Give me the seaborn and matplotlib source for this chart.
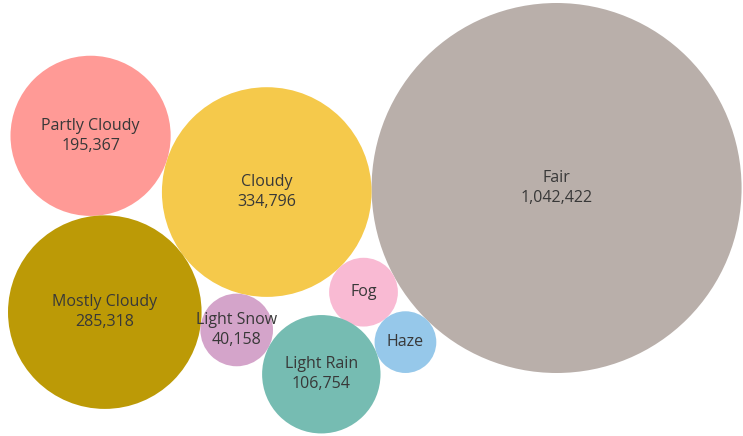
import numpy as np
import pandas as pd
import matplotlib.pyplot as plt
import seaborn as sns

# weather condition counts (packed bubbles)
conditions = ["Fair", "Cloudy", "Partly Cloudy", "Mostly Cloudy",
              "Light Snow", "Fog", "Haze", "Light Rain"]
counts = [1042422, 334796, 195367, 285318, 40158, 36000, 29000, 106754]
show_count = [True, True, True, True, True, False, False, True]
colors = {
    "Fair": "#B9AFAA",
    "Cloudy": "#F5C94B",
    "Partly Cloudy": "#FF9A96",
    "Mostly Cloudy": "#BC9A06",
    "Light Snow": "#D4A4CA",
    "Fog": "#F9BAD3",
    "Haze": "#96C8EA",
    "Light Rain": "#76BCB2",
}

W, H, DPI = 743, 436, 100
max_r = 185  # radius of the biggest bubble, in pixels

radius = {c: max_r * np.sqrt(v / max(counts)) for c, v in zip(conditions, counts)}
pos = {}


def touch_one(a, angle, name):
    # place `name` touching bubble `a` in the given direction (screen coords, y down)
    d = radius[a] + radius[name]
    t = np.radians(angle)
    return pos[a] + d * np.array([np.cos(t), np.sin(t)])


def touch_two(a, b, name):
    # place `name` touching bubbles a and b, on the lower side
    pa, pb = pos[a], pos[b]
    da, db = radius[a] + radius[name], radius[b] + radius[name]
    d = np.linalg.norm(pb - pa)
    u = (pb - pa) / d
    along = (da ** 2 - db ** 2 + d ** 2) / (2 * d)
    h = np.sqrt(max(da ** 2 - along ** 2, 0))
    perp = np.array([-u[1], u[0]])
    c1 = pa + along * u + h * perp
    c2 = pa + along * u - h * perp
    return c1 if c1[1] > c2[1] else c2


pos["Fair"] = np.array([0.0, 0.0])
pos["Cloudy"] = touch_one("Fair", 179.2, "Cloudy")
pos["Partly Cloudy"] = touch_one("Cloudy", 197.7, "Partly Cloudy")
pos["Mostly Cloudy"] = touch_two("Cloudy", "Partly Cloudy", "Mostly Cloudy")
pos["Light Snow"] = touch_two("Mostly Cloudy", "Cloudy", "Light Snow")
pos["Fog"] = touch_two("Cloudy", "Fair", "Fog")
pos["Haze"] = touch_two("Fog", "Fair", "Haze")
pos["Light Rain"] = touch_two("Light Snow", "Haze", "Light Rain")

df = pd.DataFrame({
    "condition": conditions,
    "count": counts,
    "x": [pos[c][0] for c in conditions],
    "y": [pos[c][1] for c in conditions],
    "r": [radius[c] for c in conditions],
})

sns.set_style("white")
plt.rcParams["font.family"] = ["Open Sans", "DejaVu Sans"]

fig = plt.figure(figsize=(W / DPI, H / DPI), dpi=DPI)
ax = fig.add_axes([0, 0, 1, 1])

# marker area in pt^2 so that diameter matches 2r pixels
sizes = (2 * df["r"] * 72 / DPI) ** 2
sns.scatterplot(data=df, x="x", y="y", hue="condition", palette=colors,
                s=sizes.values, linewidth=0, legend=False, ax=ax)

for (_, row), show in zip(df.iterrows(), show_count):
    label = row["condition"]
    if show:
        label += "\n" + f"{row['count']:,}"
    ax.text(row["x"], row["y"], label, ha="center", va="center",
            fontsize=11.5, color="#383838", linespacing=1.35)

left = (df["x"] - df["r"]).min() - 8
top = (df["y"] - df["r"]).min() - 3
ax.set_xlim(left, left + W)
ax.set_ylim(top + H, top)
ax.set_axis_off()

fig.savefig("out.png", dpi=DPI)
